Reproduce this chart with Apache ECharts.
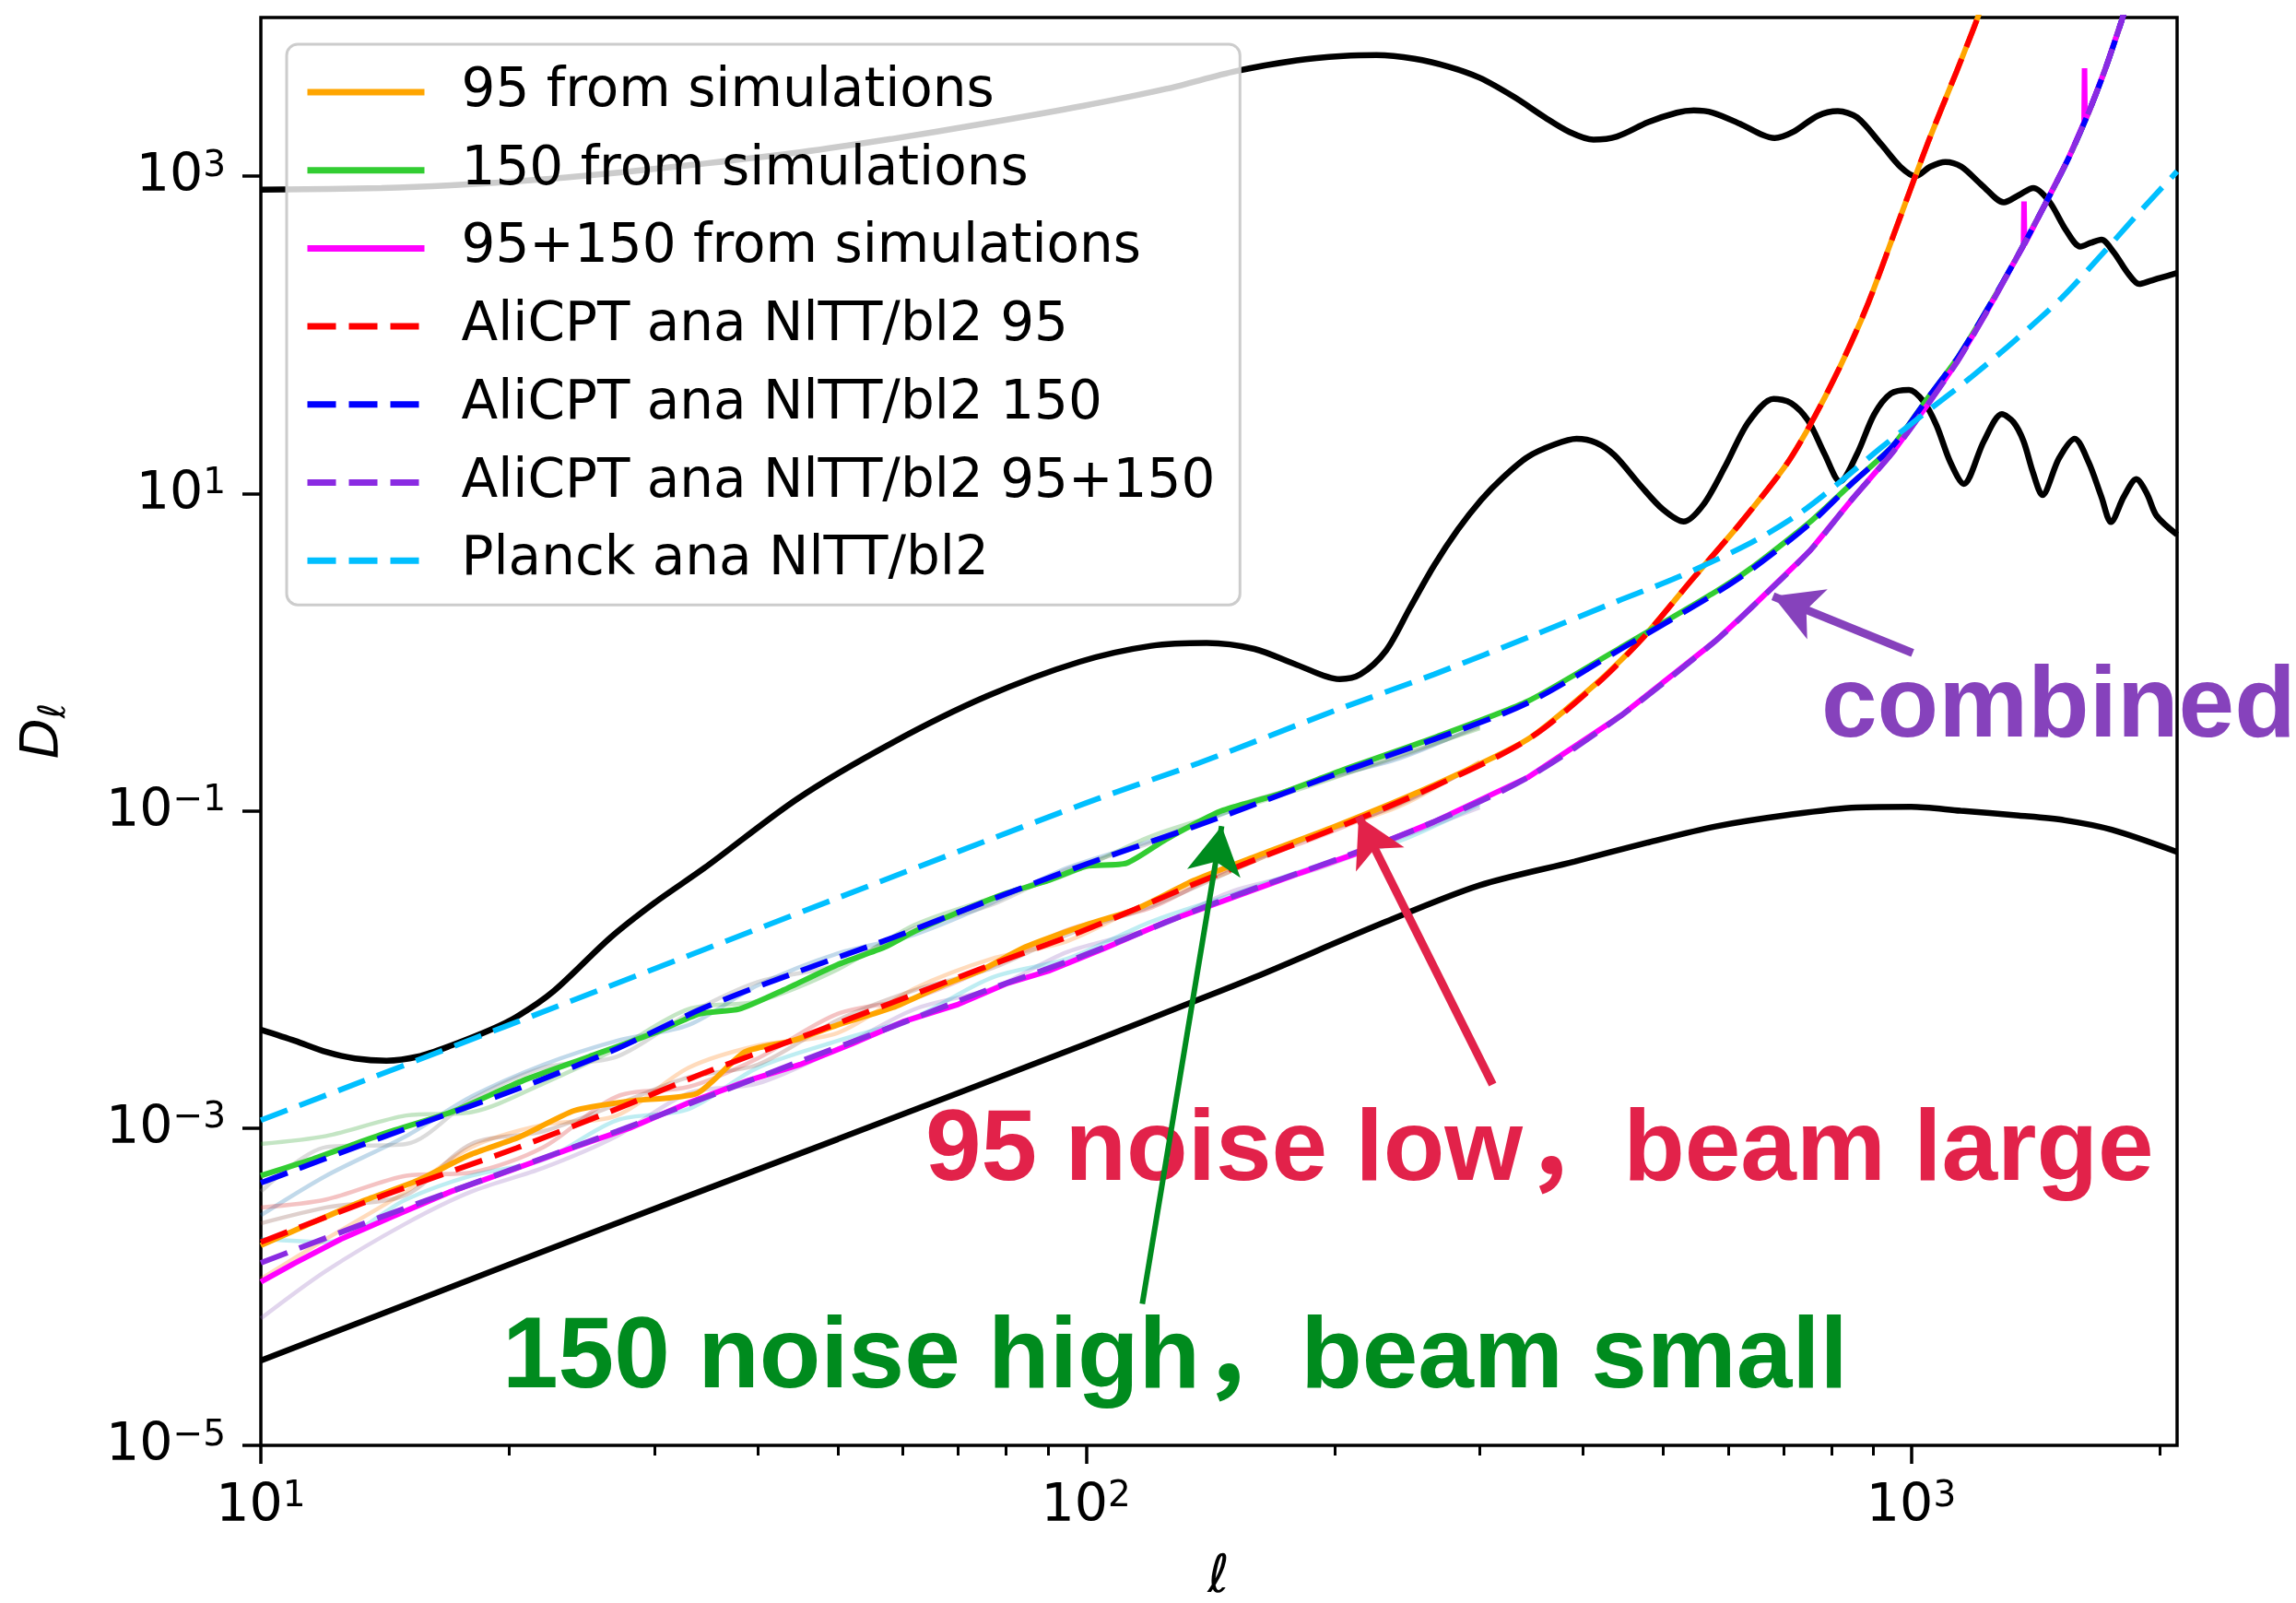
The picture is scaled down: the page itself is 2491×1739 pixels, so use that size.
<!DOCTYPE html>
<html><head><meta charset="utf-8">
<script src="https://cdn.jsdelivr.net/npm/echarts@6/dist/echarts.min.js"></script>
<style>html,body{margin:0;padding:0;background:#fff}#c{width:2491px;height:1739px}</style>
</head><body><div id="c"></div>
<script>
// ================= DATA =================
// Black theory curves
const ttL = [10,14,17,22,28,34,45,58,75,99,125,152,180,205,225,250,275,300,330,360,385,412,440,480,520,545,575,620,660,683,720,770,815,860,920,970,1012,1055,1100,1150,1220,1295,1350,1406,1470,1540,1603,1650,1700,1760,1830,1889,1950,2000,2100];
const ttD = [822,841,875,955,1072,1191,1413,1714,2138,2767,3548,4592,5370,5715,5794,5495,4898,4169,3162,2344,1905,1698,1778,2188,2512,2594,2512,2138,1820,1738,1905,2399,2570,2344,1585,1148,1000,1148,1230,1148,871,684,759,841,692,457,360,380,398,331,245,209,219,228,245];

const eeL = [10,11,12,13,14.2,15.5,17,19,20.4,22.6,26.5,30,34.5,44.8,58.3,75.7,98.4,120,140,160,180,203,215,231,247,264,282,301,320,343,370,393,415,437,470,500,530,560,595,635,681,715,750,785,820,860,902,945,994,1035,1073,1115,1158,1225,1288,1330,1368,1405,1442,1510,1578,1640,1700,1746,1810,1874,1930,1983,2100];
const eeD = [0.00417,0.00355,0.00302,0.00275,0.00266,0.00282,0.00331,0.00417,0.00501,0.00724,0.0158,0.0263,0.0437,0.120,0.269,0.525,0.871,1.096,1.143,1.047,0.832,0.676,0.724,1.023,1.905,3.50,5.89,9.08,12.6,17.0,20.4,22.1,20.9,17.4,11.2,7.94,6.65,8.51,14.8,28.2,39.5,37.2,28.8,17.8,11.9,17.8,31.6,42.7,45.0,38.0,26.9,15.8,11.5,21.4,31.6,28.2,21.4,13.5,9.77,16.6,22.1,15.8,9.55,6.61,9.55,12.3,10.0,7.24,5.50];

const bbL = [10,20,32.3,50,100,137,160,231,300,391,480,579,700,859,1000,1148,1350,1535,1750,2100];
const bbD = [3.42e-5,1.38e-4,3.59e-4,8.51e-4,3.39e-3,6.46e-3,8.91e-3,0.0200,0.0339,0.0479,0.0631,0.0796,0.0933,0.105,0.106,0.100,0.0933,0.0871,0.0759,0.0550];

// Planck analytic noise
const cyL = [10,20,50,100,137,200,264,350,440,520,640,730,818,920,1047,1180,1339,1520,1711,1880,2100];
const cyD = [1.12e-3,4.47e-3,0.0282,0.112,0.200,0.427,0.724,1.29,2.09,2.95,4.90,7.41,11.7,19.5,33.1,53.7,93.3,170,331,575,1072];

// AliCPT analytic noise
const rdL = [10,14,20.4,27,34.5,45,58.3,75,98.4,137,160,203,264,343,417,475,542,618,705,754,820,887,960,1047,1135,1202,1240];
const rdD = [1.91e-4,3.72e-4,7.48e-4,1.32e-3,2.23e-3,3.72e-3,6.19e-3,0.01023,0.01722,0.0355,0.0490,0.0794,0.142,0.281,0.637,1.259,2.851,6.310,15.1,26.98,63.10,158.9,478.6,1611,4571,9772,15849];

const blL = [10,14,20.4,27,34.5,45,58.3,75,98.4,137,160,203,264,343,445,579,640,754,850,950,1047,1140,1233,1340,1452,1550,1643,1720,1799,1850];
const blD = [4.51e-4,8.71e-4,1.754e-3,3.16e-3,5.75e-3,9.77e-3,0.01585,0.0263,0.0447,0.0813,0.1096,0.1738,0.2818,0.4786,1.047,2.344,3.311,6.457,11.75,19.95,39.81,72.44,141.3,302.0,660.7,1288,2570,4786,9550,15136];

const puL = [10,14,20.4,27,34.5,45,58.3,75,98.4,137,160,203,264,343,445,579,640,754,850,950,1047,1140,1233,1340,1452,1550,1643,1720,1799,1850];
const puD = [1.413e-4,2.754e-4,5.623e-4,9.55e-4,1.549e-3,2.630e-3,4.365e-3,7.244e-3,0.01202,0.02399,0.03236,0.05012,0.08511,0.1622,0.3981,1.175,1.905,4.365,9.333,18.20,36.31,69.18,138.0,302.0,660.7,1288,2570,4786,9550,15136];

// Mean of simulations
const orL = [10,11.5,13.3,15.5,17.9,20.5,24,28,33.8,38.6,44,50,58.3,67,75,84.3,100,115,135,160,200,264,343,417,475,542,618,705,754,820,887,960,1047,1135,1202,1240];
const orD = [1.82e-4,2.51e-4,3.47e-4,4.68e-4,6.76e-4,8.71e-4,1.29e-3,1.48e-3,1.66e-3,3.02e-3,3.55e-3,4.47e-3,5.75e-3,7.94e-3,0.0100,0.0138,0.0191,0.0240,0.0363,0.0513,0.0794,0.145,0.282,0.646,1.26,2.85,6.31,15.1,26.9,63.1,158,479,1611,4571,9772,15849];

const grL = [10,11.5,13,14.4,17,20.8,25,30,34,38,43,50,57,62,70,80,90,100,112,125,146,170,203,264,343,445,579,640,754,850,950,1047,1140,1233,1340,1452,1550,1643,1720,1799,1850];
const grD = [5.01e-4,6.31e-4,7.94e-4,9.55e-4,1.259e-3,1.995e-3,2.818e-3,3.981e-3,5.248e-3,5.623e-3,7.413e-3,0.01072,0.01380,0.01738,0.02291,0.03020,0.03631,0.04467,0.04677,0.06607,0.1000,0.1259,0.1778,0.2884,0.4898,1.072,2.399,3.388,6.607,11.75,19.95,39.81,72.44,141.3,302.0,660.7,1288,2570,4786,9550,15136];

const mgL = [10,11,12.5,14.4,17,20,24,28,33,39,45,52,60,70,80,90,105,125,150,180,215,264,343,445,579,640,754,850,950,1047,1140,1233,1340,1368,1370,1372,1452,1550,1620,1622,1624,1643,1720,1799,1850];
const mgD = [1.072e-4,1.413e-4,1.995e-4,2.754e-4,3.981e-4,5.370e-4,7.586e-4,1.0e-3,1.445e-3,1.995e-3,2.512e-3,3.388e-3,4.677e-3,6.026e-3,8.128e-3,9.772e-3,0.01349,0.01995,0.02818,0.03981,0.05495,0.08511,0.1622,0.3981,1.175,1.905,4.365,9.333,18.20,36.31,69.18,138.0,302.0,363.1,691.8,371.5,660.7,1288,2188,4786,2239,2570,4786,9550,15136];

// Individual faint simulation realisations
const simL = [10,12,15,18,22,27,33,40,50,62,77,95,120,150,190,240,300];
const sim1 = [2.82e-4,5.01e-4,8.91e-4,1.58e-3,2.51e-3,3.55e-3,4.47e-3,7.94e-3,0.0126,0.0166,0.0263,0.0437,0.0646,0.100,0.155,0.214,0.347];
const sim2 = [7.94e-4,8.91e-4,1.20e-3,1.26e-3,1.91e-3,3.16e-3,5.62e-3,6.31e-3,0.0100,0.0191,0.0282,0.0398,0.0692,0.100,0.148,0.224,0.331];
const sim3 = [1.12e-4,2.00e-4,3.98e-4,7.59e-4,1.05e-3,1.20e-3,2.40e-3,3.31e-3,3.98e-3,7.59e-3,0.0117,0.0151,0.0269,0.0417,0.0708,0.107,0.204];
const sim4 = [3.16e-4,3.55e-4,5.01e-4,5.25e-4,7.59e-4,1.58e-3,1.82e-3,2.75e-3,5.25e-3,6.61e-3,0.0105,0.0178,0.0245,0.0437,0.0676,0.112,0.195];
const sim5 = [6.31e-5,1.26e-4,2.51e-4,3.98e-4,5.62e-4,8.91e-4,1.66e-3,1.91e-3,3.16e-3,5.62e-3,7.59e-3,0.0129,0.0182,0.0309,0.0427,0.0676,0.105];
const sim6 = [2.00e-4,1.91e-4,3.55e-4,5.01e-4,6.31e-4,1.12e-3,1.32e-3,2.40e-3,3.55e-3,5.01e-3,8.91e-3,0.0117,0.0200,0.0295,0.0447,0.0646,0.110];
const sim7 = [3.98e-4,7.59e-4,7.94e-4,1.51e-3,2.40e-3,2.82e-3,5.25e-3,8.32e-3,0.0107,0.0182,0.0257,0.0427,0.0631,0.105,0.151,0.219,0.339];
const sim8 = [2.51e-4,3.16e-4,3.80e-4,7.94e-4,9.55e-4,1.41e-3,2.09e-3,2.51e-3,4.79e-3,7.41e-3,0.0102,0.0166,0.0251,0.0417,0.0708,0.110,0.200];

// Legend names
const names = ['95 from simulations','150 from simulations','95+150 from simulations',
  'AliCPT ana NlTT/bl2 95','AliCPT ana NlTT/bl2 150','AliCPT ana NlTT/bl2 95+150','Planck ana NlTT/bl2'];

// Tick values
const xMajor = [10,100,1000];
const xMinor = [20,30,40,50,60,70,80,90,200,300,400,500,600,700,800,900,2000];
const yMajor = [1e-5,1e-3,1e-1,10,1000];

// Annotations (arrow endpoints in data coordinates)
const arrowPurple = [[1004,0.987],[680,2.25]];
const arrowRed    = [[311,1.88e-3],[214,0.092]];
const arrowGreen  = [[117,7.8e-5],[146,0.08]];

// ================= CHART =================
const chart = echarts.init(document.getElementById('c'), null, {renderer:'canvas'});
const zip = (L,D) => L.map((l,i)=>[l,D[i]]);
const DASH = [31,14];
function mk(name,L,D,color,width,dash,smooth,extra){
  return Object.assign({
    name, type:'line', data: zip(L,D), symbol:'none', showSymbol:false,
    smooth: smooth, clip:true, silent:true, animation:false,
    lineStyle:{color, width, type: dash ? DASH : 'solid', cap:'butt'},
    itemStyle:{color}, emphasis:{disabled:true}
  }, extra||{});
}
const simColors = ['#1f77b4','#2ca02c','#ff7f0e','#d62728','#9467bd','#17becf','#7f7f7f','#8c564b'];
const sims = [sim1,sim2,sim3,sim4,sim5,sim6,sim7,sim8].map((s,i)=>
  mk('sim'+i, simL, s, simColors[i], 4.5, false, 0.3, {lineStyle:{color:simColors[i],width:4.5,opacity:0.28}}));

function powLabel(v){
  const e = Math.round(Math.log10(v));
  return '{b|10}{s|' + (e<0 ? '\u2212'+(-e) : e) + '}';
}
const richTick = {
  b:{fontFamily:'DejaVu Sans', fontSize:57, lineHeight:60, verticalAlign:'bottom', color:'#000'},
  s:{fontFamily:'DejaVu Sans', fontSize:39, lineHeight:23, verticalAlign:'top', color:'#000'}
};

const series = [
  mk('TT', ttL, ttD, '#000', 6.5, false, 0.3),
  mk('EE', eeL, eeD, '#000', 6.5, false, 0.3),
  mk('BB', bbL, bbD, '#000', 6.5, false, 0.3),
  ...sims,
  mk(names[0], orL, orD, '#ffa500', 6, false, 0.2),
  mk(names[1], grL, grD, '#32cd32', 6, false, 0.2),
  mk(names[2], mgL, mgD, '#ff00ff', 6, false, false),
  mk(names[3], rdL, rdD, '#ff0000', 6, true, 0.3),
  mk(names[4], blL, blD, '#0000ff', 6, true, 0.3),
  mk(names[5], puL, puD, '#8a2be2', 6, true, 0.3),
  mk(names[6], cyL, cyD, '#00bfff', 6, true, 0.3, {
    markLine:{
      silent:true, animation:false, symbol:['none','arrow'], symbolSize:[44,52],
      label:{show:false}, emphasis:{disabled:true},
      data:[
        [{coord:arrowPurple[0], lineStyle:{color:'#8642bc',width:9,type:'solid'}, itemStyle:{color:'#8642bc'}},{coord:arrowPurple[1]}],
        [{coord:arrowRed[0], lineStyle:{color:'#e2224a',width:9,type:'solid'}, itemStyle:{color:'#e2224a'}},{coord:arrowRed[1]}],
        [{coord:arrowGreen[0], lineStyle:{color:'#008b1e',width:6,type:'solid'}, itemStyle:{color:'#008b1e'}},{coord:arrowGreen[1]}]
      ]
    }
  })
];

const option = {
  backgroundColor:'#ffffff',
  animation:false,
  grid:{left:283, top:19, width:2079, height:1549, show:true, borderColor:'#000', borderWidth:3.5,
        backgroundColor:'transparent', containLabel:false, outerBoundsMode:'none'},
  xAxis:[{
    type:'log', logBase:10, min:10, max:2100,
    axisLine:{show:false}, splitLine:{show:false},
    axisTick:{show:true, inside:false, length:20, lineStyle:{color:'#000', width:3.5}, customValues:xMajor},
    axisLabel:{show:true, margin:36, customValues:xMajor, formatter:powLabel, rich:richTick}
  },{
    type:'log', logBase:10, min:10, max:2100, gridIndex:0, position:'bottom',
    axisLine:{show:false}, splitLine:{show:false}, axisLabel:{show:false},
    axisTick:{show:true, inside:false, length:11, lineStyle:{color:'#000', width:3}, customValues:xMinor}
  }],
  yAxis:{
    type:'log', logBase:10, min:1e-5, max:1e4,
    axisLine:{show:false}, splitLine:{show:false},
    axisTick:{show:true, inside:false, length:20, lineStyle:{color:'#000', width:3.5}, customValues:yMajor},
    axisLabel:{show:true, margin:38, customValues:yMajor, formatter:powLabel, rich:richTick}
  },
  legend:{
    show:true, orient:'vertical', left:311, top:48, data:names, selectedMode:false,
    itemWidth:127, itemHeight:20, itemGap:18.7, padding:[19,27,15,19],
    itemStyle:{opacity:0, borderWidth:0},
    lineStyle:{width:7},
    backgroundColor:'rgba(255,255,255,0.8)', borderColor:'#cccccc', borderWidth:3, borderRadius:12,
    textStyle:{fontFamily:'DejaVu Sans', fontSize:58, color:'#000', lineHeight:66, padding:[0,0,0,35]}
  },
  graphic:[
    {type:'text', z:1, x:1976, y:769, style:{text:'combined', font:'bold 109px "Liberation Sans", Arial, sans-serif', fill:'#8642bc', align:'left', verticalAlign:'middle'}},
    {type:'text', z:1, x:1004, y:1250, style:{text:'95 noise low\uFF0Cbeam large', font:'bold 109px "Liberation Sans", "Noto Sans CJK SC", sans-serif', fill:'#e2224a', align:'left', verticalAlign:'middle'}},
    {type:'text', z:1, x:545, y:1475, style:{text:'150 noise high\uFF0Cbeam small', font:'bold 109px "Liberation Sans", "Noto Sans CJK SC", sans-serif', fill:'#008b1e', align:'left', verticalAlign:'middle'}},
    {type:'text', z:1, x:1322, y:1712, style:{text:'\u2113', font:'italic 57px "DejaVu Sans"', fill:'#000', align:'center', verticalAlign:'middle'}},
    {type:'text', z:1, x:50, y:793, rotation:Math.PI/2,
     style:{text:'{d|D}{s|\u2113}', align:'center', verticalAlign:'middle',
       rich:{d:{font:'italic 57px "DejaVu Sans"', fill:'#000', lineHeight:60, verticalAlign:'top'},
             s:{font:'italic 40px "DejaVu Sans"', fill:'#000', lineHeight:30, verticalAlign:'bottom'}}}}
  ],
  series
};
chart.setOption(option);
</script>
</body></html>
